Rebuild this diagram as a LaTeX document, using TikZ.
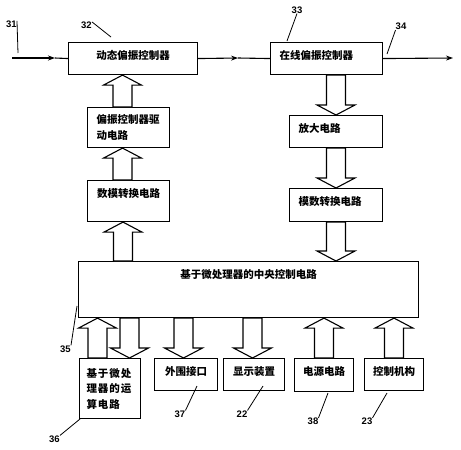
\documentclass[tikz,border=0pt]{standalone}
\usepackage{fontspec}
\setmainfont{Liberation Sans}
\newfontfamily\cjk{Noto Sans CJK SC}
\usepackage{tikz}
\usetikzlibrary{calc}
\usetikzlibrary{arrows.meta}
\newcommand{\halfshaft}{9.5pt}
\newcommand{\halfhead}{19pt}
\newcommand{\headlen}{10pt}
\tikzset{
    common/.style={anchor=north west, draw, rectangle, line width=1.1pt, inner sep=0pt,
        font=\cjk\bfseries\fontsize{10.5}{16}\selectfont},
    box/.style={common, text height=17pt},
    leftbox/.style={box, align=left, inner xsep=9pt},
    fat/.style={draw, fill=white, line width=1.1pt, line join=miter, to path={
        let \p1=(\tikztostart), \p2=(\tikztotarget), \n1={sign(\y1-\y2)} in
        (\x1-\halfshaft,\y1) -- (\x1-\halfshaft,\y2+\n1*\headlen) -- (\x1-\halfhead,\y2+\n1*\headlen)
        -- (\x1,\y2) -- (\x1+\halfhead,\y2+\n1*\headlen) -- (\x1+\halfshaft,\y2+\n1*\headlen)
        -- (\x1+\halfshaft,\y1) -- cycle}},
    num/.style={font=\bfseries\fontsize{9.5}{10}\selectfont, inner sep=0pt},
    leader/.style={line width=0.8pt},
    signal/.style={line width=1.1pt},
    tip/.style={-{Stealth[length=7pt,width=5pt]}}
}

\begin{document}
\begin{tikzpicture}[x=1pt, y=-1pt]
    \useasboundingbox (0,0) rectangle (461,450);

    \node[box, minimum width=129pt, text depth=15pt] (dyn) at (68,42) {动态偏振控制器};
    \node[leftbox, text width=94pt, text depth=15pt] (onl) at (270,42) {在线偏振控制器};
    \node[common, minimum width=82pt, minimum height=40pt, text width=64pt, align=left] (drv) at (87,107) {偏振控制器驱\\动电路};
    \node[box, minimum width=82pt, text depth=24pt] (dac) at (87,180) {数模转换电路};
    \node[leftbox, text width=75pt, text depth=15pt] (amp) at (289,115) {放大电路};
    \node[leftbox, text width=75pt, text depth=16pt] (adc) at (289,188) {模数转换电路};
    \node[box, minimum width=340pt, text depth=39pt] (cpu) at (78,261) {基于微处理器的中央控制电路};
    \node[common, minimum width=61pt, minimum height=60pt, text width=47pt, align=left,
        font=\cjk\bfseries\fontsize{10.5}{15.5}\selectfont\addfontfeature{LetterSpace=9}] (calc) at (79,358) {基于微处\\理器的运\\算电路};
    \node[box, minimum width=63pt, text depth=15pt] (port) at (154,358) {外围接口};
    \node[box, minimum width=61pt, text depth=15pt] (disp) at (223,358) {显示装置};
    \node[box, minimum width=59pt, text depth=16pt] (power) at (294,358) {电源电路};
    \node[box, minimum width=59pt, text depth=15pt] (ctrl) at (364,358) {控制机构};

    \coordinate (in) at (12,58);
    \coordinate (in-mid) at (55,58);
    \coordinate (link-mid) at (238,58);
    \coordinate (out) at (453,58);

    \draw[signal, tip] (in) -- (in-mid);
    \draw[signal] (in-mid) -- (dyn.west);
    \draw[signal, tip] (dyn.east) -- (link-mid);
    \draw[signal] (link-mid) -- (onl.west);
    \draw[signal, tip] (onl.east) -- (out);

    \draw[fat] (122.5,0 |- drv.north) to (122.5,0 |- dyn.south);
    \draw[fat] (122.5,0 |- dac.north) to (122.5,0 |- drv.south);
    \draw[fat] (123,0 |- cpu.north) to (123,0 |- dac.south);
    \draw[fat] (336,0 |- onl.south) to (336,0 |- amp.north);
    \draw[fat] (336,0 |- amp.south) to (336,0 |- adc.north);
    \draw[fat] (336,0 |- adc.south) to (336,0 |- cpu.north);
    \draw[fat] (97.5,0 |- calc.north) to (97.5,0 |- cpu.south);
    \draw[fat] (129.5,0 |- cpu.south) to (129.5,0 |- calc.north);
    \draw[fat] (183.5,0 |- cpu.south) to (183.5,0 |- port.north);
    \draw[fat] (252.5,0 |- cpu.south) to (252.5,0 |- disp.north);
    \draw[fat] (324,0 |- power.north) to (324,0 |- cpu.south);
    \draw[fat] (394,0 |- ctrl.north) to (394,0 |- cpu.south);

    \path
        (11.5,24.5) node[num] (n31) {31}  (18,53) coordinate (p31)
        (86.5,25.5) node[num] (n32) {32}  (111,37) coordinate (p32)
        (297,10) node[num] (n33) {33}  (287,41) coordinate (p33)
        (401,26.5) node[num] (n34) {34}  (387,54) coordinate (p34)
        (65.5,349) node[num] (n35) {35}  (77,306) coordinate (p35)
        (54.5,439) node[num] (n36) {36}  (80,419) coordinate (p36)
        (180,414) node[num] (n37) {37}  (197,386) coordinate (p37)
        (242,414) node[num] (n22) {22}  (263,386) coordinate (p22)
        (313,421.5) node[num] (n38) {38}  (328,393) coordinate (p38)
        (367,421.5) node[num] (n23) {23}  (387,393) coordinate (p23);

    \draw[leader] (n31.north east) -- (p31);
    \draw[leader] (n32.north east) -- (p32);
    \draw[leader] (n33.south) -- (p33);
    \draw[leader] (n34.south west) -- (p34);
    \draw[leader] (n35.north east) -- (p35);
    \draw[leader] (n36.north east) -- (p36);
    \draw[leader] (n37.north east) -- (p37);
    \draw[leader] (n22.north east) -- (p22);
    \draw[leader] (n38.north east) -- (p38);
    \draw[leader] (n23.north east) -- (p23);
\end{tikzpicture}
\end{document}
